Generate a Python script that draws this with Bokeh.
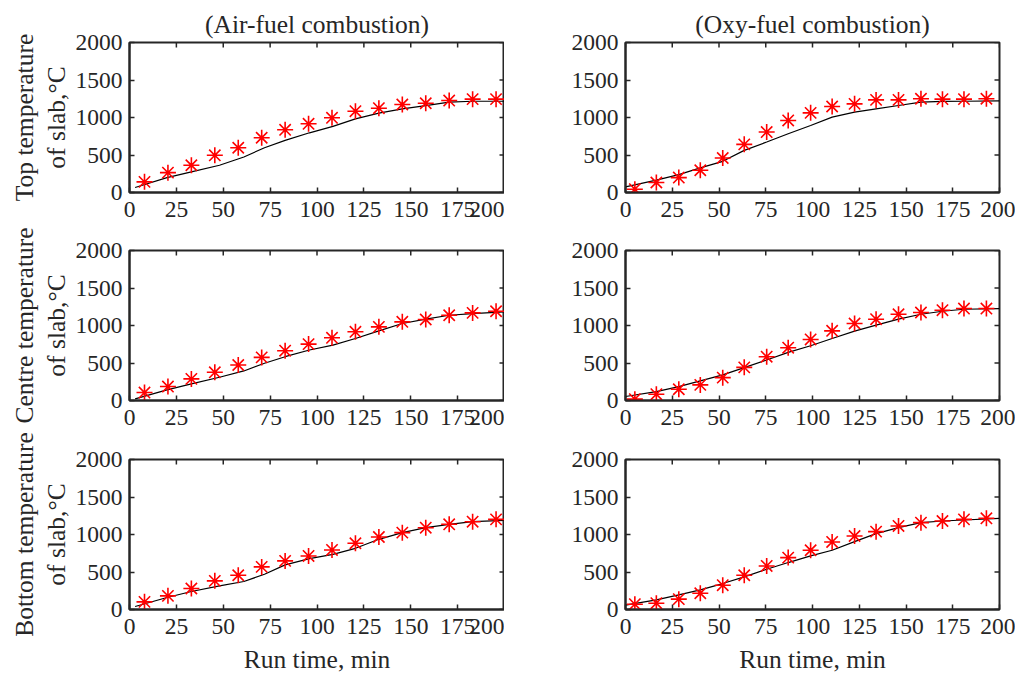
import math
from bokeh.plotting import figure
from bokeh.models import Range1d, FixedTicker
from bokeh.layouts import column, row
from bokeh.core.properties import value
from bokeh.embed import file_html
from bokeh.resources import INLINE

FONT = "Liberation Serif"
AX = "#262626"

# ---- data ----
x_left_markers = [8, 20.5, 33, 45.5, 58, 70.5, 83, 95.5, 108, 120.5, 133, 145.5, 158, 170.5, 183, 195.5]
x_right_markers = [5, 16.5, 28.5, 40, 52, 63.5, 75.5, 87, 99, 110.5, 122.5, 134, 146, 158, 169.5, 181, 193]

x_left_line = [3, 20, 33, 48, 61, 72, 83, 96, 108.5, 120.5, 133, 145.5, 158, 170.5, 183, 200]
x_right_line = [0, 16.5, 28.5, 40, 52, 63.5, 75.5, 87, 99, 110.5, 122.5, 134, 146, 158, 169.5, 181, 200]

air_top_meas = [142, 265, 363, 496, 597, 730, 836, 916, 996, 1084, 1124, 1173, 1190, 1226, 1245, 1245]
air_top_sim = [66, 199, 274, 363, 473, 597, 695, 796, 881, 982, 1058, 1115, 1159, 1204, 1217, 1217]
oxy_top_meas = [44, 133, 199, 297, 460, 642, 806, 961, 1062, 1147, 1182, 1235, 1235, 1250, 1245, 1245, 1250]
oxy_top_sim = [75, 164, 239, 328, 416, 562, 673, 784, 894, 1005, 1071, 1116, 1160, 1205, 1215, 1217, 1222]

air_centre_meas = [106, 186, 288, 376, 473, 575, 664, 752, 836, 916, 982, 1049, 1080, 1137, 1168, 1190]
air_centre_sim = [22, 142, 221, 310, 394, 496, 584, 673, 739, 827, 929, 1027, 1084, 1137, 1159, 1181]
oxy_centre_meas = [18, 84, 150, 208, 305, 442, 584, 704, 814, 929, 1027, 1084, 1150, 1173, 1204, 1226, 1226]
oxy_centre_sim = [53, 119, 186, 261, 341, 438, 540, 642, 730, 827, 925, 1004, 1084, 1150, 1190, 1217, 1226]

air_bottom_meas = [102, 182, 280, 382, 457, 568, 648, 714, 794, 883, 967, 1025, 1091, 1136, 1171, 1202]
air_bottom_sim = [40, 160, 240, 315, 373, 470, 595, 679, 736, 816, 936, 1025, 1091, 1136, 1171, 1189]
oxy_bottom_meas = [71, 84, 138, 217, 324, 457, 581, 692, 790, 901, 980, 1038, 1114, 1158, 1180, 1202, 1216]
oxy_bottom_sim = [58, 129, 195, 262, 346, 435, 537, 626, 714, 790, 905, 1012, 1091, 1158, 1180, 1193, 1216]

x_ticks = [0, 25, 50, 75, 100, 125, 150, 175, 200]
y_ticks = [0, 500, 1000, 1500, 2000]

titles = ["(Air-fuel combustion)", "(Oxy-fuel combustion)"]
ylabel_line1 = ["Top temperature", "Centre temperature", "Bottom temperature"]
ylabel_line2 = ["of slab,\u00b0C", "of slab,\u00b0C", "of slab,\u00b0C"]
xlabel = "Run time, min"

TICK_FS = "23.5px"
LABEL_FS = "25.5px"
FRAME_H = 150
TOTAL_H = 678
LABEL_W = 72
BORDERS_TOP = [42, 20, 21]
BORDERS_BOTTOM = [38, 38, 69]


def style_axis(ax):
    ax.axis_line_color = AX
    ax.axis_line_width = 2
    ax.major_tick_line_color = AX
    ax.major_tick_line_width = 1.5
    ax.major_tick_in = 5
    ax.major_tick_out = 0
    ax.minor_tick_line_color = None
    ax.major_label_text_font = FONT
    ax.major_label_text_color = AX
    ax.major_label_text_font_size = TICK_FS
    ax.axis_label_text_font = FONT
    ax.axis_label_text_font_style = "normal"
    ax.axis_label_text_color = AX
    ax.axis_label_text_font_size = LABEL_FS


def make(r, c, xm, ym, xl, yl):
    fw = 375 if c == 0 else 374
    p = figure(
        frame_width=fw, frame_height=FRAME_H,
        x_range=Range1d(0, 200), y_range=Range1d(0, 2000),
        output_backend="svg", toolbar_location=None,
        min_border_left=129 - LABEL_W if c == 0 else 121,
        min_border_right=0 if c == 0 else 16,
        min_border_top=BORDERS_TOP[r], min_border_bottom=BORDERS_BOTTOM[r],
        background_fill_color="white", border_fill_color="white",
    )
    p.xgrid.visible = False
    p.ygrid.visible = False
    p.outline_line_color = AX
    p.outline_line_width = 2

    xax = p.xaxis[0]
    yax = p.yaxis[0]
    xax.ticker = FixedTicker(ticks=x_ticks)
    yax.ticker = FixedTicker(ticks=y_ticks)
    style_axis(xax)
    style_axis(yax)
    xax.major_label_standoff = 9
    yax.major_label_standoff = 7

    # inward ticks on the top and right edges of the box
    tick_len_y = 5 * 2000 / FRAME_H
    tick_len_x = 5 * 200 / fw
    p.segment(x0=x_ticks, x1=x_ticks, y0=[2000] * len(x_ticks),
              y1=[2000 - tick_len_y] * len(x_ticks), line_color=AX, line_width=1.5)
    p.segment(x0=[200] * len(y_ticks), x1=[200 - tick_len_x] * len(y_ticks),
              y0=y_ticks, y1=y_ticks, line_color=AX, line_width=1.5)

    if r == 0:
        p.title.text = titles[c]
        p.title.align = "center"
        p.title.text_font = FONT
        p.title.text_font_size = LABEL_FS
        p.title.text_font_style = "normal"
        p.title.text_color = AX
        p.title.standoff = 8
    if r == 2:
        xax.axis_label = xlabel
        xax.axis_label_standoff = 8

    p.line(xl, yl, line_color="black", line_width=1.2)
    p.scatter(xm, ym, marker="asterisk", size=16, line_color="#ff0000", line_width=1.6)
    return p


# narrow figure that carries the rotated y-axis titles of the left column
lab = figure(width=LABEL_W, height=TOTAL_H, x_range=Range1d(0, LABEL_W),
             y_range=Range1d(TOTAL_H, 0), output_backend="svg", toolbar_location=None,
             min_border=0, outline_line_color=None)
lab.axis.visible = False
lab.grid.visible = False
centres = []
y0 = 0
for r in range(3):
    y0 += BORDERS_TOP[r]
    centres.append(y0 + FRAME_H / 2)
    y0 += FRAME_H + BORDERS_BOTTOM[r]
lab.text(x=[24] * 3, y=centres, text=ylabel_line1, angle=math.pi / 2,
         text_align="center", text_baseline="middle", text_font=value(FONT),
         text_font_size=LABEL_FS, text_color=AX)
lab.text(x=[56] * 3, y=centres, text=ylabel_line2, angle=math.pi / 2,
         text_align="center", text_baseline="middle", text_font=value(FONT),
         text_font_size=LABEL_FS, text_color=AX)

panels = [
    [(x_left_markers, air_top_meas, x_left_line, air_top_sim),
     (x_right_markers, oxy_top_meas, x_right_line, oxy_top_sim)],
    [(x_left_markers, air_centre_meas, x_left_line, air_centre_sim),
     (x_right_markers, oxy_centre_meas, x_right_line, oxy_centre_sim)],
    [(x_left_markers, air_bottom_meas, x_left_line, air_bottom_sim),
     (x_right_markers, oxy_bottom_meas, x_right_line, oxy_bottom_sim)],
]

rows = []
for r in range(3):
    figs = [make(r, c, *panels[r][c]) for c in range(2)]
    rows.append(row(*figs, spacing=0))
layout = row(lab, column(*rows, spacing=0), spacing=0)

open("out.html", "w").write(file_html(layout, INLINE))
